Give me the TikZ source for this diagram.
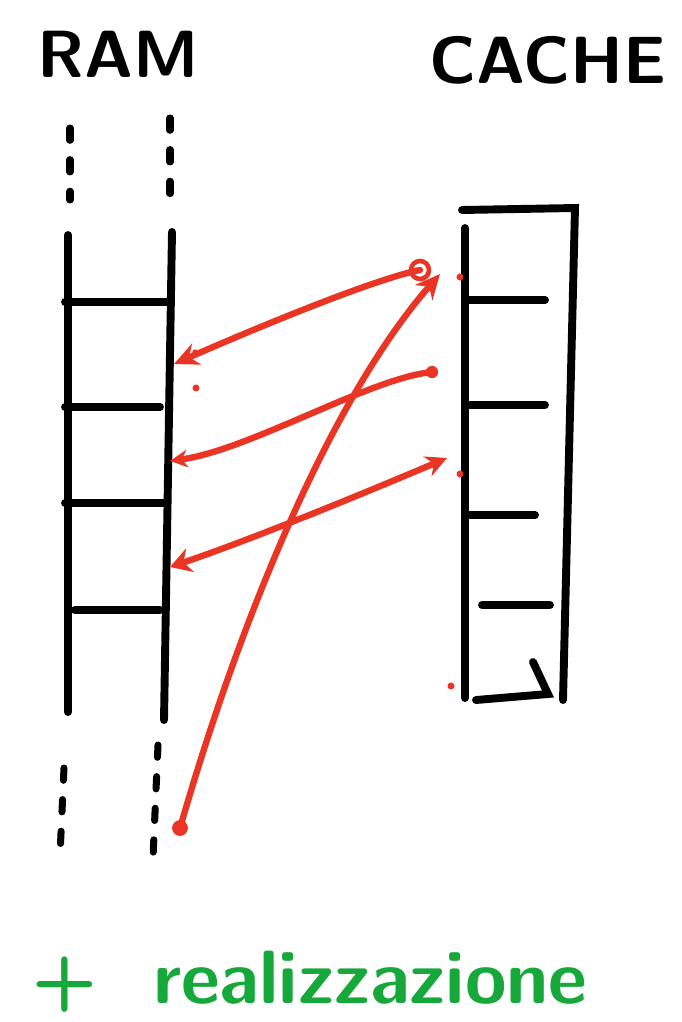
\documentclass[tikz,border=0pt]{standalone}
\usepackage{tikz}
\usetikzlibrary{arrows.meta, positioning, calc}
\definecolor{penred}{RGB}{234,52,36}
\definecolor{pengreen}{RGB}{22,168,58}

\begin{document}
\begin{tikzpicture}[
  x=0.02cm, y=-0.02cm,
  pen/.style={line width=4.5pt, line cap=round, black},
  gaps/.style={line width=4pt, line cap=round, black, dash pattern=on 7pt off 11pt},
  link/.style={line width=3.6pt, line cap=round, penred},
  title/.style={font=\fontsize{38}{38}\selectfont\sffamily\bfseries},
  blob/.style={circle, fill=penred, inner sep=0pt, minimum size=#1}
]
\useasboundingbox (0,0) rectangle (681,1022);

% Titles
\node[title] (ram) at (118,54) {RAM};
\node[title] (cache) at (548,60) {CACHE};

% RAM column
\draw[pen] (68,235) -- (68,712);
\draw[pen] (172,232) -- (164,720);
\foreach \y/\a/\b in {302/65/168, 407/65/160, 503/65/165, 610/75/160}
  \draw[pen] (\a,\y) -- (\b,\y);
\draw[gaps] (70,128) -- (70,200);
\draw[gaps] (170,118) -- (170,200);
\draw[gaps] (64,768) -- (60,855);
\draw[gaps] (158,745) -- (153,858);

% Cache column
\draw[pen] (462,210) -- (575,208) -- (563,700);
\draw[pen] (465,228) -- (465,698);
\foreach \y/\a/\b in {300/467/545, 405/470/545, 515/470/535, 605/482/550}
  \draw[pen] (\a,\y) -- (\b,\y);
\draw[pen] (476,700) -- (548,694) -- (533,662);

% Links between cells
\coordinate (r1) at (174,364);
\coordinate (c1) at (420,270);
\coordinate (r2) at (170,461);
\coordinate (c2) at (432,372);
\coordinate (r3) at (170,567);
\coordinate (c3) at (447,458);
\coordinate (r4) at (180,828);
\coordinate (c4) at (440,274);

\draw[link, -{Stealth[length=14pt,width=13pt]}] (c1) .. controls (370,280) and (240,335) .. (r1);
\draw[link, -{Stealth[length=10pt,width=10pt]}] (c2) .. controls (370,378) and (250,450) .. (r2);
\draw[link, {Stealth[length=12pt,width=14pt]}-{Stealth[length=12pt,width=12pt]}] (r3) .. controls (250,540) and (360,495) .. (c3);
\draw[link, -{Stealth[length=14pt,width=13pt]}] (r4) .. controls (240,620) and (330,400) .. (c4);

\node[blob=9pt] (e1) at (r4) {};
\node[blob=7pt] (e2) at (c2) {};
\draw[link, line width=2.6pt] (c1) circle[radius=9];
\node[blob=4pt] (s1) at (460,277) {};
\node[blob=4pt] (s2) at (460,474) {};
\node[blob=4pt] (s3) at (451,686) {};
\node[blob=4pt] (s4) at (196,388) {};
\node[blob=3pt] (s5) at (195,352) {};

% Note
\node[text=pengreen, anchor=west, font=\fontsize{43}{43}\selectfont\sffamily\bfseries]
  (note) at (26,982) {+\hspace{32pt}realizzazione};
\end{tikzpicture}
\end{document}
